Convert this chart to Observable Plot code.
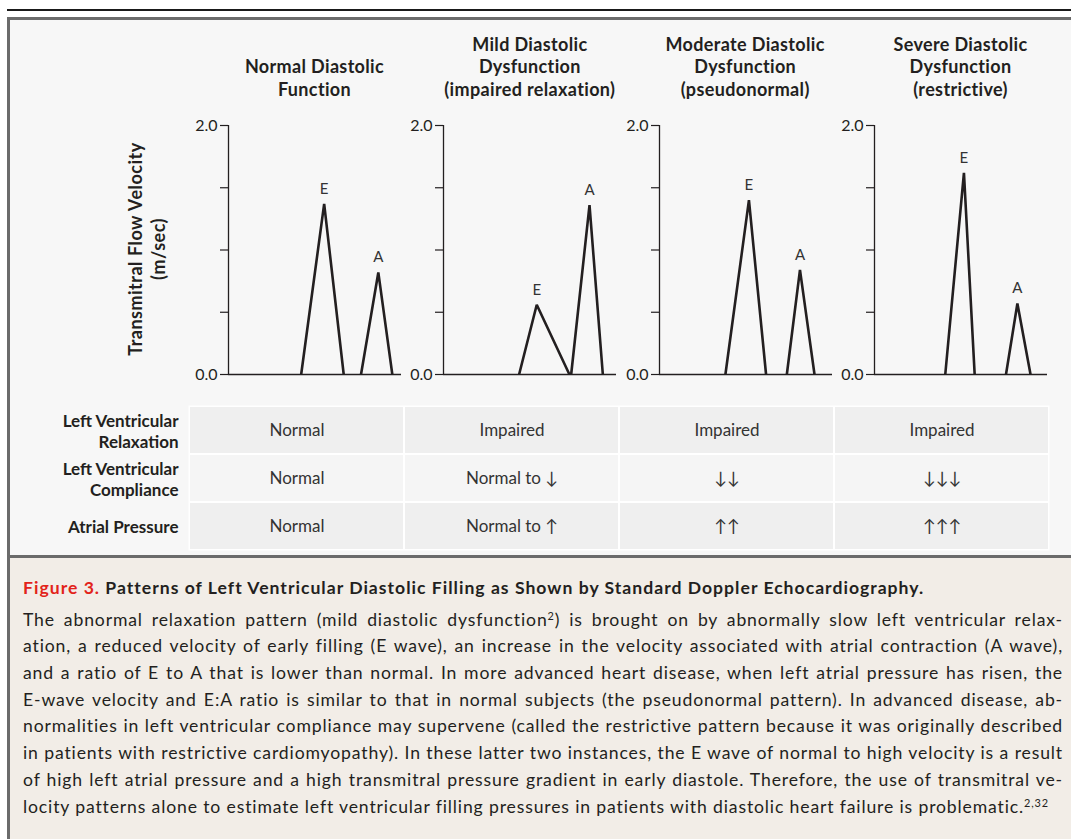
<!DOCTYPE html>
<html>
<head>
<meta charset="utf-8">
<script src="https://cdn.jsdelivr.net/npm/d3@7"></script>
<script src="https://cdn.jsdelivr.net/npm/@observablehq/plot@0.6"></script>
<style>
  html, body { margin: 0; padding: 0; }
  body { width: 1071px; height: 839px; overflow: hidden; position: relative; background: #ffffff;
         font-family: Lato, "Open Sans", "DejaVu Sans", sans-serif; color: #231f20; }
  #topline { position: absolute; left: 7px; top: 9px; width: 1064px; height: 2px; background: #1a1a1a; }
  #box { position: absolute; left: 7px; top: 17px; width: 1100px; height: 900px; box-sizing: border-box;
         border-left: 3px solid #6b6b6b; border-top: 3px solid #6b6b6b; background: #f7f7f7; }
  #sep { position: absolute; left: 7px; top: 555px; width: 1100px; height: 3px; background: #6b6b6b; }
  #capbg { position: absolute; left: 10px; top: 558px; width: 1100px; height: 300px; background: #f2ede7; }
  .ptitle { position: absolute; top: 0; height: 100px; width: 280px; display: flex; flex-direction: column;
            justify-content: flex-end; text-align: center; font-weight: bold; font-size: 18px; letter-spacing: 0.35px;
            line-height: 22.3px; color: #231f20; }
  #ylabel { position: absolute; width: 300px; height: 46px; left: -3.5px; top: 226px; transform: rotate(-90deg);
            text-align: center; font-weight: bold; font-size: 18px; letter-spacing: 0.5px; line-height: 23px; color: #231f20; }
  #table { position: absolute; left: 10px; top: 405px; }
  #caption { position: absolute; left: 23px; top: 574.6px; width: 1040px; font-size: 17.6px; line-height: 26.7px; color: #231f20; }
  #caption .head { font-weight: bold; margin-bottom: 5.3px; white-space: nowrap; }
  #caption .head .fig { color: #e2231a; }
  #caption .ln { white-space: nowrap; text-align: justify; text-align-last: justify; }
  #caption .ln.last { text-align-last: left; }
  sup { font-size: 0.62em; line-height: 0; vertical-align: 0.55em; }
</style>
</head>
<body>
<div id="topline"></div>
<div id="box"></div>
<div id="sep"></div>
<div id="capbg"></div>
<div id="ylabel">Transmitral Flow Velocity<br>(m/sec)</div>
<div id="root"></div>
<div id="table"></div>
<div id="caption">
  <div class="head"><span class="fig">Figure 3.</span> Patterns of Left Ventricular Diastolic Filling as Shown by Standard Doppler Echocardiography.</div>
  <div class="ln">The abnormal relaxation pattern (mild diastolic dysfunction<sup>2</sup>) is brought on by abnormally slow left ventricular relax-</div>
  <div class="ln">ation, a reduced velocity of early filling (E wave), an increase in the velocity associated with atrial contraction (A wave),</div>
  <div class="ln">and a ratio of E to A that is lower than normal. In more advanced heart disease, when left atrial pressure has risen, the</div>
  <div class="ln">E-wave velocity and E:A ratio is similar to that in normal subjects (the pseudonormal pattern). In advanced disease, ab-</div>
  <div class="ln">normalities in left ventricular compliance may supervene (called the restrictive pattern because it was originally described</div>
  <div class="ln">in patients with restrictive cardiomyopathy). In these latter two instances, the E wave of normal to high velocity is a result</div>
  <div class="ln">of high left atrial pressure and a high transmitral pressure gradient in early diastole. Therefore, the use of transmitral ve-</div>
  <div class="ln last">locity patterns alone to estimate left ventricular filling pressures in patients with diastolic heart failure is problematic.<sup>2,32</sup></div>
</div>
<script>
// ---- data ----
const panelTitles = [
  "Normal Diastolic\nFunction",
  "Mild Diastolic\nDysfunction\n(impaired relaxation)",
  "Moderate Diastolic\nDysfunction\n(pseudonormal)",
  "Severe Diastolic\nDysfunction\n(restrictive)"
];
// time positions along each panel's baseline (0–100 = full panel width)
const eStart = [42.0, 43.7, 38.1, 40.9];
const ePeakT = [55.3, 53.9, 51.7, 51.7];
const eEnd   = [66.6, 72.8, 61.6, 57.9];
const eVel   = [1.37, 0.56, 1.40, 1.62];   // m/sec
const aStart = [76.6, 73.8, 73.6, 76.0];
const aPeakT = [86.6, 84.4, 81.2, 82.6];
const aEnd   = [94.7, 92.1, 89.6, 90.2];
const aVel   = [0.82, 1.36, 0.84, 0.57];   // m/sec
const yTicks = [0, 0.5, 1.0, 1.5, 2.0];
const yLabelled = [0, 2.0];

const rowLabels = ["Left Ventricular\nRelaxation", "Left Ventricular\nCompliance", "Atrial Pressure"];
const relaxation     = ["Normal", "Impaired", "Impaired", "Impaired"];
const compliance     = ["Normal", "Normal to \u2193", "\u2193\u2193", "\u2193\u2193\u2193"];
const atrialPressure = ["Normal", "Normal to \u2191", "\u2191\u2191", "\u2191\u2191\u2191"];

// ---- layout ----
const FONT = "Lato, 'Open Sans', 'DejaVu Sans', sans-serif";
const INK = "#231f20";
const firstAxisX = 228, panelStep = 215.33, plotW = 173, mL = 40, mR = 4;

const root = document.getElementById("root");

panelTitles.forEach((title, i) => {
  const axisX = firstAxisX + i * panelStep;

  const t = document.createElement("div");
  t.className = "ptitle";
  t.style.left = (axisX + plotW / 2 - 140) + "px";
  t.innerHTML = title.split("\n").map(s => `<div>${s}</div>`).join("");
  root.appendChild(t);

  const points = [
    {wave: "E", t: eStart[i], v: 0}, {wave: "E", t: ePeakT[i], v: eVel[i]}, {wave: "E", t: eEnd[i], v: 0},
    {wave: "A", t: aStart[i], v: 0}, {wave: "A", t: aPeakT[i], v: aVel[i]}, {wave: "A", t: aEnd[i], v: 0}
  ];
  const peaks = [
    {wave: "E", t: ePeakT[i], v: eVel[i]},
    {wave: "A", t: aPeakT[i], v: aVel[i]}
  ];

  const chart = Plot.plot({
    width: mL + plotW + mR,
    height: 279,
    marginLeft: mL, marginRight: mR, marginTop: 20, marginBottom: 10,
    style: {background: "transparent", fontFamily: FONT, fontSize: "16px", color: INK, overflow: "visible"},
    x: {domain: [0, 100], axis: null},
    y: {domain: [0, 2], axis: null},
    marks: [
      Plot.axisY(yTicks, {
        tickSize: 8, tickPadding: 3, stroke: INK, strokeWidth: 1.2,
        tickFormat: d => yLabelled.includes(d) ? d.toFixed(1) : "",
        fontSize: 16, fill: INK, label: null
      }),
      Plot.ruleX([0], {y1: 0, y2: 2, stroke: INK, strokeWidth: 1.3}),
      Plot.ruleY([0], {stroke: INK, strokeWidth: 1.3}),
      Plot.line(points, {x: "t", y: "v", z: "wave", stroke: INK, strokeWidth: 2.6, strokeLinejoin: "miter", strokeLinecap: "butt"}),
      Plot.text(peaks, {x: "t", y: "v", text: "wave", dy: -15, fontSize: 15, fill: "#333"})
    ]
  });
  chart.style.position = "absolute";
  chart.style.top = "105px";
  chart.style.left = (axisX - mL) + "px";
  root.appendChild(chart);
});

// ---- table ----
const rows = [relaxation, compliance, atrialPressure];
const cells = [];
rows.forEach((vals, r) => vals.forEach((text, c) => cells.push({row: rowLabels[r], col: c, text, shade: r})));

const table = Plot.plot({
  width: 178 + 861,
  height: 145,
  marginLeft: 178, marginRight: 0, marginTop: 0, marginBottom: 0,
  style: {background: "transparent", fontFamily: FONT, color: INK, overflow: "visible"},
  x: {type: "band", domain: [0, 1, 2, 3], padding: 0, axis: null},
  y: {type: "band", domain: rowLabels, padding: 0, axis: null},
  marks: [
    Plot.frame({fill: "#ffffff", stroke: null}),
    Plot.cell(cells, {x: "col", y: "row", fill: d => d.shade === 1 ? "#f5f5f5" : "#efefef", inset: 1}),
    Plot.text(cells, {x: "col", y: "row", text: "text", fontSize: 17, fill: "#333", letterSpacing: "0.4px"}),
    Plot.text(rowLabels, {y: d => d, text: d => d, frameAnchor: "left", textAnchor: "end", dx: -10, dy: 0,
      fontWeight: "bold", fontSize: 17, lineHeight: 1.28, fill: INK, letterSpacing: "0.3px"})
  ]
});
document.getElementById("table").appendChild(table);

// ---- caption fitting: uniform letter-spacing so the longest line fills the measure, then justify ----
function naturalWidth(el) {
  const prev = el.style.display;
  el.style.display = "inline-block";
  const w = el.getBoundingClientRect().width;
  el.style.display = prev;
  return w;
}
const measure = 1040;
const lns = Array.from(document.querySelectorAll("#caption .ln"));
let ls = 3;
lns.forEach(el => {
  const n = el.textContent.length;
  ls = Math.min(ls, (measure - naturalWidth(el)) / n);
});
ls = Math.max(0, ls - 0.02);
lns.forEach(el => { el.style.letterSpacing = ls + "px"; });
const head = document.querySelector("#caption .head");
const hn = head.textContent.length;
const hls = Math.max(0, (900 - naturalWidth(head)) / hn);
head.style.letterSpacing = hls + "px";
</script>
</body>
</html>
